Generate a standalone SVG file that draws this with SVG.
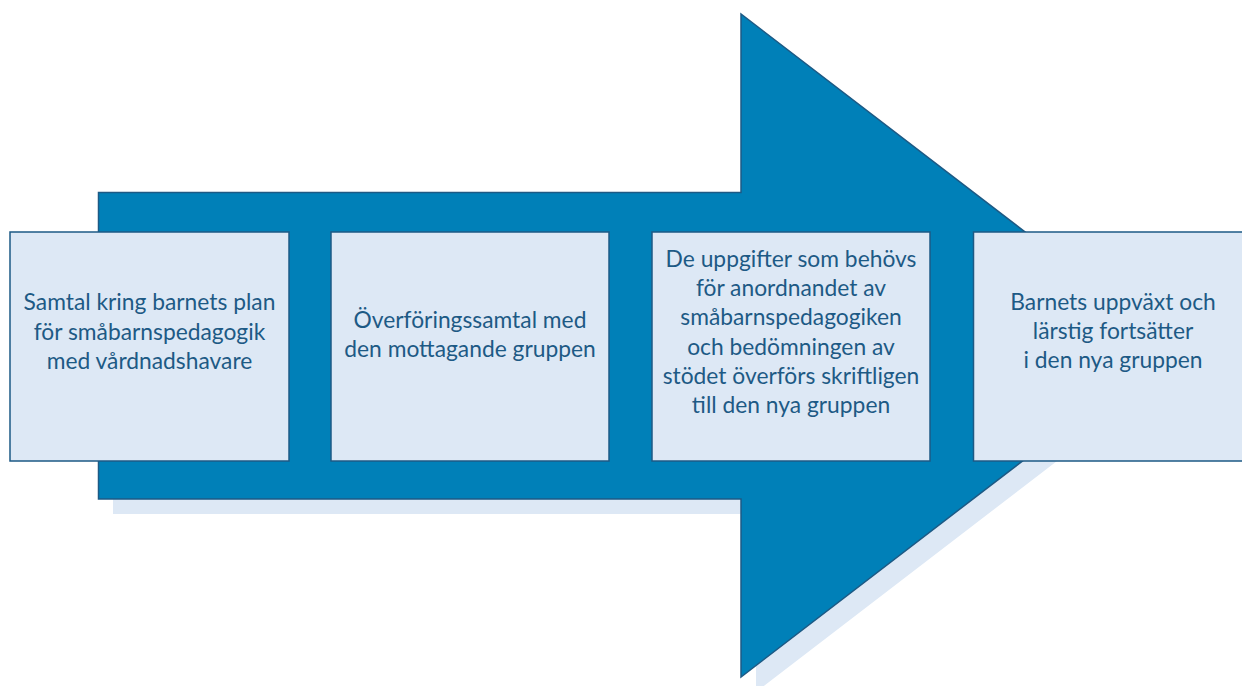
<svg xmlns="http://www.w3.org/2000/svg" width="1242" height="686" viewBox="0 0 1242 686">
<style>
.box{fill:#dde8f5;stroke:#1d5a85;stroke-width:1.5}
.t{font-family:Lato,"Liberation Sans",sans-serif;font-size:22.8px;fill:#1d5a85;text-anchor:middle}
</style>
<rect width="1242" height="686" fill="#ffffff"/>
<g id="arrow">
<polygon points="113,207 756,207 756,29 1188,360.5 756,692 756,514 113,514" fill="#dde8f5"/>
<polygon points="98.5,192.5 741,192.5 741,14 1173,345.5 741,677 741,499 98.5,499" fill="#0080b8" stroke="#1d5a85" stroke-width="1.5"/>
</g>
<g id="connectors"/>
<g id="n1">
<rect class="box" x="10" y="232" width="279" height="229"/>
<text class="t" x="149.5" y="310">Samtal kring barnets plan</text>
<text class="t" x="149.5" y="339.5">för småbarnspedagogik</text>
<text class="t" x="149.5" y="369">med vårdnadshavare</text>
</g>
<g id="n2">
<rect class="box" x="331" y="232" width="278" height="229"/>
<text class="t" x="470" y="328">Överföringssamtal med</text>
<text class="t" x="470" y="357">den mottagande gruppen</text>
</g>
<g id="n3">
<rect class="box" x="652" y="232" width="278" height="229"/>
<text class="t" x="791" y="267">De uppgifter som behövs</text>
<text class="t" x="791" y="296">för anordnandet av</text>
<text class="t" x="791" y="325">småbarnspedagogiken</text>
<text class="t" x="791" y="354.5">och bedömningen av</text>
<text class="t" x="791" y="384">stödet överförs skriftligen</text>
<text class="t" x="791" y="413">till den nya gruppen</text>
</g>
<g id="n4">
<rect class="box" x="973.5" y="232" width="279" height="229"/>
<text class="t" x="1113" y="310">Barnets uppväxt och</text>
<text class="t" x="1113" y="339">lärstig fortsätter</text>
<text class="t" x="1113" y="368">i den nya gruppen</text>
</g>
</svg>
